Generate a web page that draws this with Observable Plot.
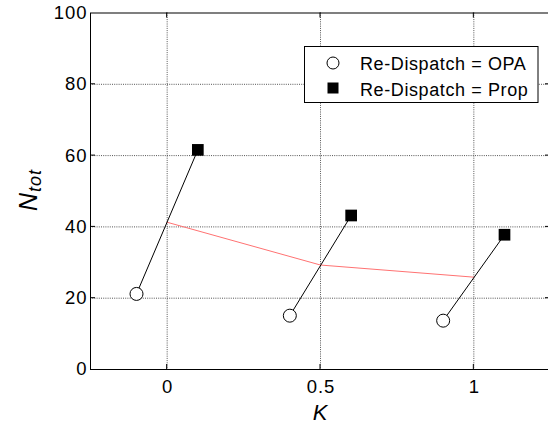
<!DOCTYPE html>
<html><head><meta charset="utf-8">
<script src="https://cdn.jsdelivr.net/npm/d3@7"></script>
<script src="https://cdn.jsdelivr.net/npm/@observablehq/plot@0.6"></script>
<style>
body{margin:0;background:#fff;overflow:hidden}
#wrap{position:relative;width:548px;height:428px;overflow:hidden}
</style>
</head><body><div id="wrap"></div>
<script>
// Data
const kValues = [0, 0.5, 1];
const redN = [41.3, 29.3, 25.9];
const opaK = [-0.1, 0.4, 0.9];
const opaN = [21.2, 15.1, 13.7];
const propK = [0.1, 0.6, 1.1];
const propN = [61.6, 43.2, 37.8];
const xTicks = [0, 0.5, 1];
const yTicks = [0, 20, 40, 60, 80, 100];
const legendLabels = ["Re-Dispatch = OPA", "Re-Dispatch = Prop"];

const FONT = '"Liberation Sans", Arial, Helvetica, sans-serif';

const redLine = kValues.map((k, i) => ({k, n: redN[i]}));
const opa = opaK.map((k, i) => ({k, n: opaN[i]}));
const prop = propK.map((k, i) => ({k, n: propN[i]}));
const links = opaK.map((k, i) => ({x1: k, y1: opaN[i], x2: propK[i], y2: propN[i]}));

const plot = Plot.plot({
  width: 548, height: 428,
  marginLeft: 90, marginRight: -2, marginTop: 12.5, marginBottom: 59,
  style: {fontFamily: FONT, fontSize: "18.5px", letterSpacing: "1px", background: "white", color: "black", overflow: "visible"},
  x: {domain: [-0.25, 1.25], label: null},
  y: {domain: [0, 100], label: null},
  marks: [
    Plot.ruleX(xTicks, {stroke: "#555", strokeDasharray: "1,1.2"}),
    Plot.ruleY(yTicks.filter(v => v > 0 && v < 100), {stroke: "#555", strokeDasharray: "1,1.2"}),
    Plot.axisX({ticks: xTicks, tickSize: 0, tickPadding: 10, tickFormat: d => String(d), label: null, dx: 0.5}),
    Plot.axisY({ticks: yTicks, tickSize: 0, tickPadding: 3, tickFormat: d => String(d), label: null}),
    Plot.line(redLine, {x: "k", y: "n", stroke: "#ff7272", strokeWidth: 1}),
    Plot.link(links, {x1: "x1", y1: "y1", x2: "x2", y2: "y2", stroke: "black", strokeWidth: 1}),
    Plot.dot(opa, {x: "k", y: "n", r: 6.5, fill: "white", stroke: "black", strokeWidth: 1}),
    Plot.dot(prop, {x: "k", y: "n", symbol: "square", r: 6.6, fill: "black", stroke: "none"}),
    Plot.frame({stroke: "black", strokeWidth: 1})
  ]
});

document.getElementById("wrap").appendChild(plot);

const svg = d3.select(plot);
const xs = plot.scale("x"), ys = plot.scale("y");
const X = v => xs.apply(v), Y = v => ys.apply(v);

// inward ticks
const g = svg.append("g").attr("stroke", "black").attr("stroke-width", 1);
yTicks.filter(v => v > 0 && v < 100).forEach(v => {
  g.append("line").attr("x1", X(-0.25)).attr("x2", X(-0.25) + 5).attr("y1", Y(v)).attr("y2", Y(v));
  g.append("line").attr("x1", X(1.25)).attr("x2", X(1.25) - 5).attr("y1", Y(v)).attr("y2", Y(v));
});
xTicks.forEach(v => {
  g.append("line").attr("x1", X(v)).attr("x2", X(v)).attr("y1", Y(0)).attr("y2", Y(0) - 5);
  g.append("line").attr("x1", X(v)).attr("x2", X(v)).attr("y1", Y(100)).attr("y2", Y(100) + 5);
});

// axis labels
svg.append("text")
  .attr("x", X(0.5)).attr("y", 420)
  .attr("text-anchor", "middle")
  .attr("font-family", FONT).attr("font-size", 22).attr("font-style", "italic")
  .style("letter-spacing", "0px")
  .text("K");

const yl = svg.append("text")
  .attr("transform", "translate(37,190) rotate(-90)")
  .attr("text-anchor", "middle")
  .attr("font-family", FONT).attr("font-size", 25).attr("font-style", "italic")
  .style("letter-spacing", "1px");
yl.append("tspan").text("N");
yl.append("tspan").attr("font-size", 18).attr("dy", 4).text("tot");

// legend
const lg = svg.append("g").attr("font-family", FONT).attr("font-size", 18)
  .attr("text-anchor", "start").style("letter-spacing", "0.6px");
lg.append("rect").attr("x", 304.5).attr("y", 46.5).attr("width", 233.5).attr("height", 56)
  .attr("fill", "white").attr("stroke", "black");
lg.append("circle").attr("cx", 333).attr("cy", 63).attr("r", 6).attr("fill", "white").attr("stroke", "black");
lg.append("rect").attr("x", 327.5).attr("y", 82.5).attr("width", 11).attr("height", 11).attr("fill", "black");
lg.append("text").attr("x", 360).attr("y", 69.5).attr("text-anchor", "start").text(legendLabels[0]);
lg.append("text").attr("x", 360).attr("y", 95.5).attr("text-anchor", "start").text(legendLabels[1]);
</script>
</body></html>
